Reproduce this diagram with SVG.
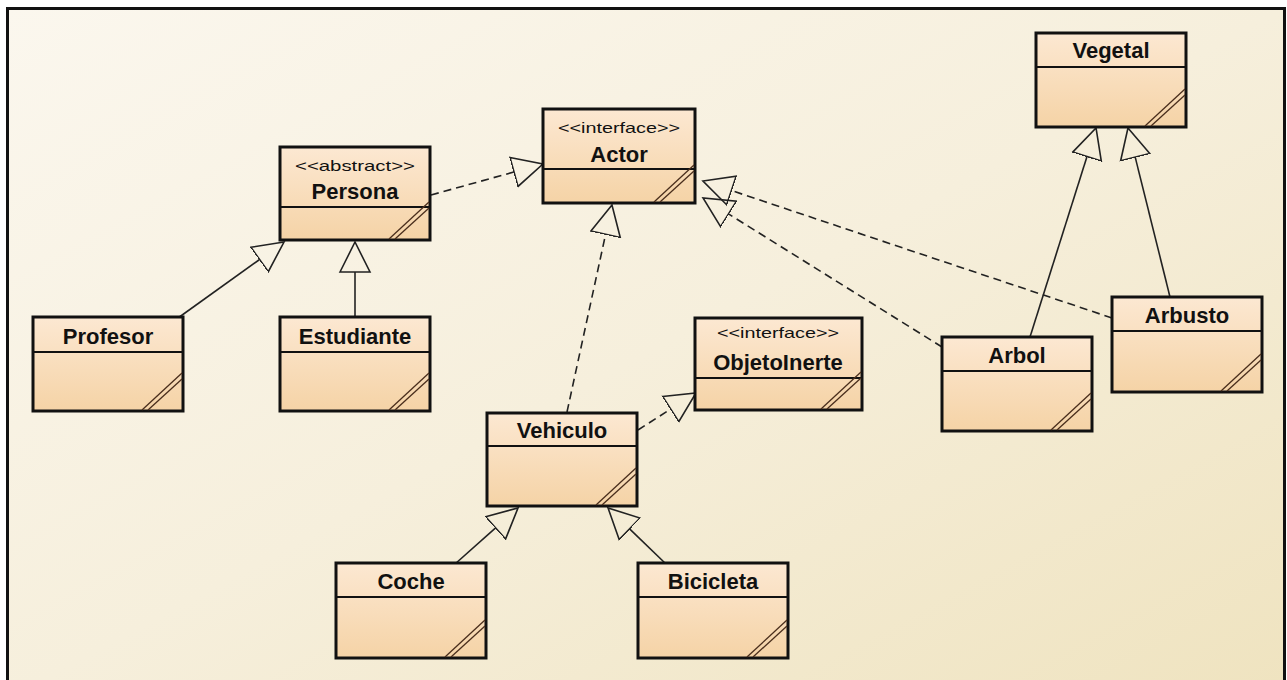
<svg xmlns="http://www.w3.org/2000/svg" xmlns:xlink="http://www.w3.org/1999/xlink" width="1287" height="680" viewBox="0 0 1287 680">
<defs>
<linearGradient id="bg" x1="0" y1="0" x2="1" y2="1">
<stop offset="0" stop-color="#fbf7ee"/>
<stop offset="0.5" stop-color="#f6efdc"/>
<stop offset="1" stop-color="#efe3bf"/>
</linearGradient>
<linearGradient id="box" x1="0" y1="0" x2="0" y2="1">
<stop offset="0" stop-color="#fce8d2"/>
<stop offset="1" stop-color="#f5d3a6"/>
</linearGradient>
<marker id="tri" markerUnits="userSpaceOnUse" markerWidth="34" markerHeight="36" viewBox="0 -18 33 36" refX="0" refY="0" orient="auto">
<path d="M0,-15 L30,0 L0,15 Z" fill="none" stroke="#222" stroke-width="1.6"/>
</marker>
<g id="corner">
<line x1="-41" y1="-1" x2="-1" y2="-38"/>
<line x1="-35" y1="-1" x2="-1" y2="-32"/>
</g>
<style>
.frame{fill:url(#bg);stroke:#111;stroke-width:3}
.cls{fill:url(#box);stroke:#111;stroke-width:3}
.div{stroke:#111;stroke-width:2}
.cor{stroke:#4a2e1c;stroke-width:1.3;fill:none}
.name{font-family:"Liberation Sans",Arial,sans-serif;font-weight:bold;font-size:22px;fill:#111;text-anchor:middle}
.st{font-family:"Liberation Sans",Arial,sans-serif;font-size:15px;fill:#111;text-anchor:middle}
.dash{stroke:#222;stroke-width:1.6;fill:none;stroke-dasharray:8 5;marker-end:url(#tri)}
.solid{stroke:#222;stroke-width:1.6;fill:none;marker-end:url(#tri)}
</style>
</defs>
<rect x="0" y="0" width="1287" height="680" fill="#ffffff"/>
<rect class="frame" x="7.5" y="8.5" width="1277" height="690"/>

<g id="connectors">
<line class="dash" x1="431" y1="195" x2="514" y2="172"/>
<line class="solid" x1="178" y1="318" x2="259.6" y2="259.5"/>
<line class="solid" x1="355" y1="317" x2="355" y2="272"/>
<line class="dash" x1="567" y1="412" x2="605.6" y2="234.3"/>
<line class="dash" x1="638" y1="430" x2="670.7" y2="409.1"/>
<line class="solid" x1="455" y1="564" x2="495.6" y2="527.9"/>
<line class="solid" x1="666" y1="564" x2="629.6" y2="528.8"/>
<line class="dash" x1="942" y1="347" x2="728.5" y2="213.9"/>
<line class="dash" x1="1112" y1="318" x2="731.4" y2="190.5"/>
<line class="solid" x1="1030" y1="337" x2="1087" y2="156.6"/>
<line class="solid" x1="1170" y1="297" x2="1135.2" y2="157.1"/>
</g>

<g id="Persona">
<rect class="cls" x="280" y="147" width="150" height="93"/>
<line class="div" x1="280" y1="207" x2="430" y2="207"/>
<text class="st" x="355" y="171" textLength="120" lengthAdjust="spacingAndGlyphs">&lt;&lt;abstract&gt;&gt;</text>
<text class="name" x="355" y="199">Persona</text>
<use xlink:href="#corner" class="cor" transform="translate(430,240)"/>
</g>

<g id="Actor">
<rect class="cls" x="543" y="109" width="152" height="94"/>
<line class="div" x1="543" y1="169" x2="695" y2="169"/>
<text class="st" x="619" y="133" textLength="122" lengthAdjust="spacingAndGlyphs">&lt;&lt;interface&gt;&gt;</text>
<text class="name" x="619" y="162">Actor</text>
<use xlink:href="#corner" class="cor" transform="translate(695,203)"/>
</g>

<g id="Vegetal">
<rect class="cls" x="1036" y="33" width="150" height="94"/>
<line class="div" x1="1036" y1="67" x2="1186" y2="67"/>
<text class="name" x="1111" y="58">Vegetal</text>
<use xlink:href="#corner" class="cor" transform="translate(1186,127)"/>
</g>

<g id="Profesor">
<rect class="cls" x="33" y="317" width="150" height="94"/>
<line class="div" x1="33" y1="352" x2="183" y2="352"/>
<text class="name" x="108" y="344">Profesor</text>
<use xlink:href="#corner" class="cor" transform="translate(183,411)"/>
</g>

<g id="Estudiante">
<rect class="cls" x="280" y="317" width="150" height="94"/>
<line class="div" x1="280" y1="352" x2="430" y2="352"/>
<text class="name" x="355" y="344">Estudiante</text>
<use xlink:href="#corner" class="cor" transform="translate(430,411)"/>
</g>

<g id="Vehiculo">
<rect class="cls" x="487" y="413" width="150" height="93"/>
<line class="div" x1="487" y1="446" x2="637" y2="446"/>
<text class="name" x="562" y="438">Vehiculo</text>
<use xlink:href="#corner" class="cor" transform="translate(637,506)"/>
</g>

<g id="ObjetoInerte">
<rect class="cls" x="695" y="318" width="167" height="92"/>
<line class="div" x1="695" y1="378" x2="862" y2="378"/>
<text class="st" x="778" y="338" textLength="122" lengthAdjust="spacingAndGlyphs">&lt;&lt;interface&gt;&gt;</text>
<text class="name" x="778" y="370">ObjetoInerte</text>
<use xlink:href="#corner" class="cor" transform="translate(862,410)"/>
</g>

<g id="Arbol">
<rect class="cls" x="942" y="337" width="150" height="94"/>
<line class="div" x1="942" y1="371" x2="1092" y2="371"/>
<text class="name" x="1017" y="363">Arbol</text>
<use xlink:href="#corner" class="cor" transform="translate(1092,431)"/>
</g>

<g id="Arbusto">
<rect class="cls" x="1112" y="297" width="150" height="95"/>
<line class="div" x1="1112" y1="331" x2="1262" y2="331"/>
<text class="name" x="1187" y="323">Arbusto</text>
<use xlink:href="#corner" class="cor" transform="translate(1262,392)"/>
</g>

<g id="Coche">
<rect class="cls" x="336" y="563" width="150" height="95"/>
<line class="div" x1="336" y1="597" x2="486" y2="597"/>
<text class="name" x="411" y="589">Coche</text>
<use xlink:href="#corner" class="cor" transform="translate(486,658)"/>
</g>

<g id="Bicicleta">
<rect class="cls" x="638" y="563" width="150" height="95"/>
<line class="div" x1="638" y1="597" x2="788" y2="597"/>
<text class="name" x="713" y="589">Bicicleta</text>
<use xlink:href="#corner" class="cor" transform="translate(788,658)"/>
</g>
</svg>
